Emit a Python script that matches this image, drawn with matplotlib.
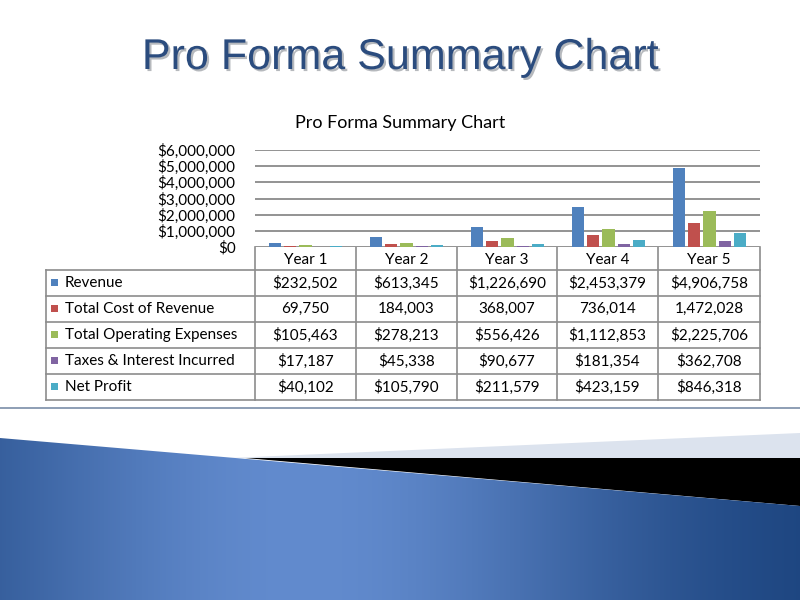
import numpy as np
import matplotlib
matplotlib.use("Agg")
import matplotlib.pyplot as plt
from matplotlib.patches import Polygon
import matplotlib.patheffects as pe

years = ["Year 1", "Year 2", "Year 3", "Year 4", "Year 5"]
series = ["Revenue", "Total Cost of Revenue", "Total Operating Expenses",
          "Taxes & Interest Incurred", "Net Profit"]
revenue = [232502, 613345, 1226690, 2453379, 4906758]
cost_of_revenue = [69750, 184003, 368007, 736014, 1472028]
operating_expenses = [105463, 278213, 556426, 1112853, 2225706]
taxes_interest = [17187, 45338, 90677, 181354, 362708]
net_profit = [40102, 105790, 211579, 423159, 846318]
cell_text = [
    ["$232,502", "$613,345", "$1,226,690", "$2,453,379", "$4,906,758"],
    ["69,750", "184,003", "368,007", "736,014", "1,472,028"],
    ["$105,463", "$278,213", "$556,426", "$1,112,853", "$2,225,706"],
    ["$17,187", "$45,338", "$90,677", "$181,354", "$362,708"],
    ["$40,102", "$105,790", "$211,579", "$423,159", "$846,318"],
]
colors = ["#4F81BD", "#C0504D", "#9BBB59", "#8064A2", "#4BACC6"]
values = [revenue, cost_of_revenue, operating_expenses, taxes_interest, net_profit]

W, H = 800, 600
fig = plt.figure(figsize=(8, 6), dpi=100)
bg = fig.add_axes([0, 0, 1, 1])
bg.set_xlim(0, W); bg.set_ylim(H, 0); bg.axis("off")

FONT = "Lato"
bg.text(400, 58, "Pro Forma Summary Chart", ha="center", va="center",
        fontsize=31, family="Liberation Sans", color="#2B4C7E",
        path_effects=[pe.withSimplePatchShadow(offset=(1.5, -1.5), alpha=0.3)])
bg.text(400, 123, "Pro Forma Summary Chart", ha="center", va="center",
        fontsize=13, family=FONT, color="black")

# bottom decoration
bg.add_patch(Polygon([(230, 458), (800, 433), (800, 458)], closed=True,
                     facecolor="#DCE3EE", edgecolor="none", zorder=1))
bg.add_patch(Polygon([(245, 458), (800, 458), (800, 506)], closed=True,
                     facecolor="black", edgecolor="none", zorder=1))
xs = np.linspace(0, 1, 400)
grad = np.exp(-((xs - 0.38) / 0.42) ** 2)
c0 = np.array([0x16, 0x3E, 0x78]) / 255
c1 = np.array([0x62, 0x8B, 0xCE]) / 255
img = c0[None, None, :] + (c1 - c0)[None, None, :] * grad[None, :, None]
img = np.repeat(img, 2, axis=0)
im = bg.imshow(img, extent=(0, 800, 600, 430), aspect="auto", zorder=2)
clip = Polygon([(0, 438), (800, 506), (800, 600), (0, 600)], closed=True,
               transform=bg.transData)
im.set_clip_path(clip)
bg.plot([0, 800], [408, 408], color="#7A8EA8", lw=1.2, zorder=3)

# chart axes
L, R, T, B = 255, 760, 150, 247
ax = fig.add_axes([L / W, 1 - B / H, (R - L) / W, (B - T) / H])
n = len(series)
x = np.arange(len(years))
bw = 0.12
for i, (s, v) in enumerate(zip(series, values)):
    ax.bar(x + (i - (n - 1) / 2) * bw * 1.25, v, bw, color=colors[i], zorder=3)
ax.set_xlim(-0.5, len(years) - 0.5)
ax.set_ylim(0, 6000000)
ax.set_yticks(np.arange(0, 6000001, 1000000))
ax.set_yticklabels(["${:,.0f}".format(t) for t in ax.get_yticks()],
                   family=FONT, fontsize=11)
ax.tick_params(length=0, pad=14)
ax.set_xticks([])
ax.grid(axis="y", color="#808080", lw=1.2, zorder=0)
for sp in ax.spines.values():
    sp.set_visible(False)

# table
col_x = [46, 255, 356, 457, 557, 658, 760]
row_y = [247, 270, 296, 322, 348, 374, 400]
lc = "#8C8C8C"
for xx in col_x[1:]:
    bg.plot([xx, xx], [row_y[0], row_y[-1]], color=lc, lw=1.2, zorder=4)
bg.plot([col_x[0], col_x[0]], [row_y[1], row_y[-1]], color=lc, lw=1.2, zorder=4)
for j, yy in enumerate(row_y):
    if j == 0:
        continue
    bg.plot([col_x[0], col_x[-1]], [yy, yy], color=lc, lw=1.2, zorder=4)
for c, yname in enumerate(years):
    bg.text((col_x[c + 1] + col_x[c + 2]) / 2, (row_y[0] + row_y[1]) / 2 + 1, yname,
            ha="center", va="center", family=FONT, fontsize=11)
for r, s in enumerate(series):
    yc = (row_y[r + 1] + row_y[r + 2]) / 2
    bg.add_patch(plt.Rectangle((51, yc - 4), 7, 7, facecolor=colors[r], edgecolor="none", zorder=5))
    bg.text(65, yc, s, ha="left", va="center", family=FONT, fontsize=11)
    for c in range(len(years)):
        bg.text((col_x[c + 1] + col_x[c + 2]) / 2, yc, cell_text[r][c],
                ha="center", va="center", family=FONT, fontsize=11)

fig.savefig("out.png", dpi=100)
